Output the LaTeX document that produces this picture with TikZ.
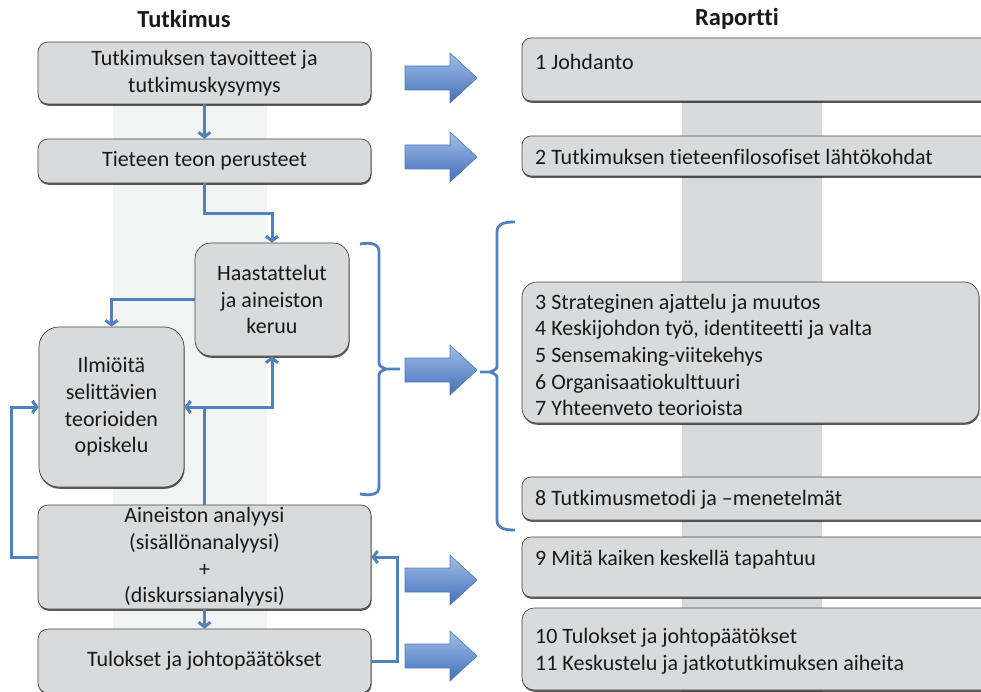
\documentclass[tikz,border=0pt]{standalone}
\usepackage{fontspec}
\setmainfont{Carlito}[Ligatures={NoCommon}]
\usetikzlibrary{arrows.meta,shadows}
\definecolor{linkblue}{RGB}{79,129,189}
\definecolor{boxgrey}{RGB}{217,218,219}
\definecolor{bandlight}{RGB}{242,243,243}
\definecolor{banddark}{RGB}{216,217,218}
\definecolor{edgegrey}{RGB}{70,70,70}
\definecolor{arrowtop}{RGB}{160,190,232}
\definecolor{arrowbot}{RGB}{68,112,184}
\definecolor{arrowedge}{RGB}{78,122,188}
\begin{document}
\begin{tikzpicture}[x=1pt,y=-1pt,
  every node/.style={font=\fontsize{22}{26.7}\selectfont, text=black!90},
  box/.style={draw=edgegrey, line width=0.7pt, fill=boxgrey, rounded corners=#1,
    inner sep=0pt, align=center,
    drop shadow={shadow xshift=0.6pt, shadow yshift=-1.8pt, fill=black, opacity=0.65}},
  box/.default=10pt,
  rtext/.style={anchor=west, align=left, inner sep=0pt},
  head/.style={font=\bfseries\fontsize{24.5}{28}\selectfont, text=black!90},
  link/.style={draw=linkblue, line width=3pt, -{Straight Barb[length=4.5pt,width=12pt]}},
  bracket/.style={draw=linkblue, line width=2.8pt},
  bigarrow/.style={draw=arrowedge, line width=0.6pt, top color=arrowtop, bottom color=arrowbot},
  blockarrow/.pic={\path[bigarrow] (0,-12) -- (45,-12) -- (45,-25) -- (72,0) -- (45,25) -- (45,12) -- (0,12) -- cycle;}
]
\useasboundingbox (0,0) rectangle (981,692);
\clip (0,0) rectangle (981,692);

% background bands behind the two columns
\fill[bandlight] (113,100) rectangle (267,630);
\fill[banddark] (682,100) rectangle (822,692);

% column headings
\node[head] (hl) at (184,19) {Tutkimus};
\node[head] (hr) at (737,19) {Raportti};

% research process (left column)
\node[box, minimum width=333pt, minimum height=62pt] (aims) at (204.5,73) {Tutkimuksen tavoitteet ja\\tutkimuskysymys};
\node[box, minimum width=333pt, minimum height=44pt] (basis) at (204.5,161) {Tieteen teon perusteet};
\node[box=16pt, minimum width=154pt, minimum height=113pt] (interv) at (272,299.5) {Haastattelut\\ja aineiston\\keruu};
\node[box=20pt, minimum width=145pt, minimum height=160pt] (theory) at (111.5,407) {Ilmiöitä\\selittävien\\teorioiden\\opiskelu};
\node[box, minimum width=333pt, minimum height=104pt] (analysis) at (204.5,557) {Aineiston analyysi\\(sisällönanalyysi)\\+\\(diskurssianalyysi)};
\node[box, minimum width=333pt, minimum height=64pt] (results) at (204.5,661) {Tulokset ja johtopäätökset};

% report chapters (right column)
\node[box=9pt, minimum width=488pt, minimum height=63pt] (r1) at (766,69.5) {};
\node[box=9pt, minimum width=488pt, minimum height=40pt] (r2) at (766,156) {};
\node[box=15pt, minimum width=457pt, minimum height=141pt] (r3) at (750.5,352.5) {};
\node[box=9pt, minimum width=488pt, minimum height=43pt] (r8) at (766,498.5) {};
\node[box=9pt, minimum width=488pt, minimum height=60pt] (r9) at (766,567) {};
\node[box=12pt, minimum width=488pt, minimum height=82pt] (r10) at (766,649) {};

\node[rtext] (t1) at (535,62) {1 Johdanto};
\node[rtext] (t2) at (535,157) {2 Tutkimuksen tieteenfilosofiset lähtökohdat};
\node[rtext] (t3) at (535,355) {3 Strateginen ajattelu ja muutos\\4 Keskijohdon työ, identiteetti ja valta\\5 Sensemaking-viitekehys\\6 Organisaatiokulttuuri\\7 Yhteenveto teorioista};
\node[rtext] (t8) at (535,500) {8 Tutkimusmetodi ja –menetelmät};
\node[rtext] (t9) at (535,560) {9 Mitä kaiken keskellä tapahtuu};
\node[rtext] (t10) at (535,651) {10 Tulokset ja johtopäätökset\\11 Keskustelu ja jatkotutkimuksen aiheita};

% process connectors
\draw[link] (aims) -- (basis);
\draw[link] (basis.south) -- ++(0,30) -| (interv.north);
\draw[link] (interv.west) -| (theory.north);
\coordinate (split) at (analysis.north |- theory.east);
\draw[link] (analysis.north) -- (split) -- (theory.east);
\draw[link] (split) -| (interv.south);
\draw[link] (analysis.west) -- ++(-26,0) |- (theory.west);
\draw[link] (analysis) -- (results);
\draw[link] (results.east) -- ++(26,0) |- (analysis.east);

% brackets around the theory and data phase
\draw[bracket] (360,244) .. controls (372,242) and (379,244) .. (379,252) -- (379,360)
  .. controls (379,366) .. (386,369) -- (400,369);
\draw[bracket] (386,369) .. controls (379,372) .. (379,378) -- (379,487)
  .. controls (379,494) and (372,496) .. (360,494);
\draw[bracket] (515,222) .. controls (503,222) and (497,224) .. (497,232) -- (497,364)
  .. controls (497,369) .. (490,372) -- (480,372);
\draw[bracket] (490,372) .. controls (497,375) .. (497,380) -- (497,520)
  .. controls (497,528) and (503,530) .. (515,530);

% block arrows from process to report
\pic at (405,78) {blockarrow};
\pic at (405,157) {blockarrow};
\pic at (405,370) {blockarrow};
\pic at (405,580) {blockarrow};
\pic at (405,656) {blockarrow};
\end{tikzpicture}
\end{document}
